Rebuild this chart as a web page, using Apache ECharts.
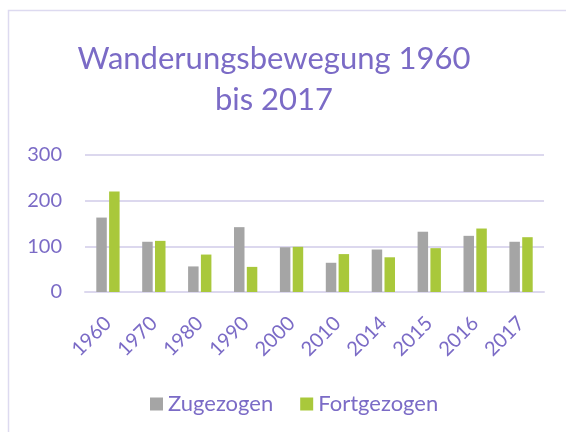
<!DOCTYPE html>
<html>
<head>
<meta charset="utf-8">
<script src="https://cdn.jsdelivr.net/npm/echarts@6/dist/echarts.min.js"></script>
<style>
  html, body { margin: 0; padding: 0; background: #fff; }
  #chart { width: 566px; height: 432px; }
</style>
</head>
<body>
<div id="chart"></div>
<script>
// Daten
var years = ["1960", "1970", "1980", "1990", "2000", "2010", "2014", "2015", "2016", "2017"];
var zugezogen = [163, 110, 56, 142, 98, 64, 93, 132, 123, 110];
var fortgezogen = [220, 112, 82, 55, 99, 83, 76, 96, 139, 120];
var yTicks = [0, 100, 200, 300];

var purple = "#7B6BC6";
var font = "Lato";

var myChart = echarts.init(document.getElementById("chart"));
var option = {
  animation: false,
  title: {
    text: "Wanderungsbewegung 1960\nbis 2017",
    left: 269,
    textAlign: "center",
    top: 33,
    textStyle: {
      color: purple,
      fontFamily: font,
      fontWeight: "normal",
      fontSize: 31,
      lineHeight: 41
    }
  },
  graphic: [
    {
      type: "rect",
      shape: { x: 8.5, y: 10.5, width: 600, height: 500 },
      style: { fill: "none", stroke: "#DDDAF0", lineWidth: 1.5 },
      silent: true
    }
  ],
  legend: {
    data: ["Zugezogen", "Fortgezogen"],
    bottom: 17,
    left: 150,
    padding: 0,
    itemWidth: 13,
    itemHeight: 13,
    itemGap: 27,
    icon: "rect",
    textStyle: { color: purple, fontFamily: font, fontSize: 22 }
  },
  grid: {
    left: 85,
    right: 22,
    top: 155,
    bottom: 140
  },
  xAxis: {
    type: "category",
    data: years,
    axisLine: { lineStyle: { color: "#DCD8EE", width: 2 } },
    axisTick: { show: false },
    axisLabel: {
      rotate: 45,
      color: purple,
      fontFamily: font,
      fontSize: 20,
      margin: 28,
      interval: 0
    }
  },
  yAxis: {
    type: "value",
    min: yTicks[0],
    max: yTicks[yTicks.length - 1],
    interval: 100,
    axisLine: { show: false },
    axisTick: { show: false },
    splitLine: { lineStyle: { color: "#DCD8EE", width: 2 } },
    axisLabel: {
      color: purple,
      fontFamily: font,
      fontSize: 20,
      margin: 23
    }
  },
  series: [
    {
      name: "Zugezogen",
      type: "bar",
      data: zugezogen,
      barWidth: 10.5,
      barGap: "22%",
      itemStyle: { color: "#A5A5A5" }
    },
    {
      name: "Fortgezogen",
      type: "bar",
      data: fortgezogen,
      barWidth: 10.5,
      barGap: "22%",
      itemStyle: { color: "#A9C83B" }
    }
  ]
};
myChart.setOption(option);
</script>
</body>
</html>
